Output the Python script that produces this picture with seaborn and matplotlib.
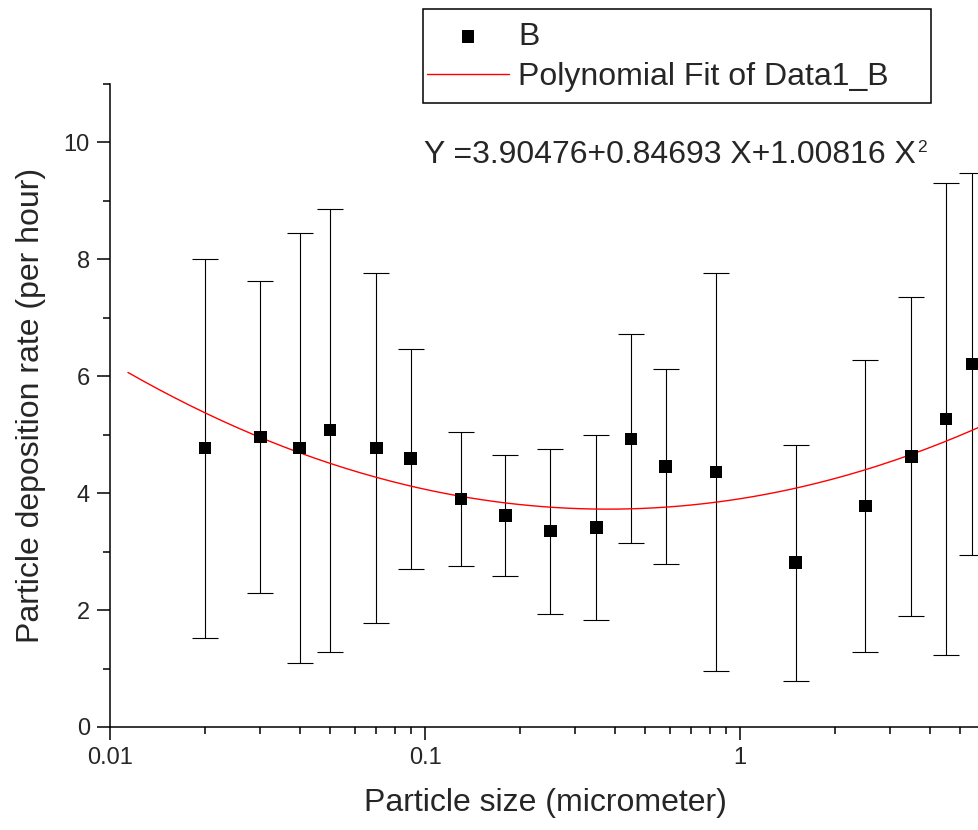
import numpy as np
import seaborn as sns
import matplotlib.pyplot as plt
from matplotlib.patches import Rectangle
from matplotlib.ticker import FixedLocator, FuncFormatter, MultipleLocator, NullFormatter, LogLocator

# Dados
sizes = [0.02, 0.03, 0.04, 0.05, 0.07, 0.09, 0.13, 0.18, 0.25, 0.35, 0.45, 0.58,
         0.84, 1.5, 2.5, 3.5, 4.5, 5.45]
rates = [4.77, 4.96, 4.77, 5.08, 4.77, 4.59, 3.90, 3.62, 3.35, 3.41, 4.93, 4.46,
         4.36, 2.81, 3.78, 4.63, 5.27, 6.21]
errors = [3.24, 2.67, 3.68, 3.79, 2.99, 1.88, 1.14, 1.04, 1.41, 1.58, 1.79, 1.67,
          3.40, 2.02, 2.50, 2.73, 4.04, 3.26]

# coeficientes do ajuste mostrados no gráfico (X = log10 do tamanho)
fit_coef = [3.90476, 0.84693, 1.00816]
fit_range = [0.0114, 10]

sns.set_style('ticks')
plt.rcParams['font.family'] = ['Liberation Sans', 'DejaVu Sans']

fig = plt.figure(figsize=(9.79, 8.30), dpi=100)
ax = fig.add_axes([0.1124, 0.1241, 0.9653, 0.7747])
ax.set_xscale('log')

fit_x = np.logspace(np.log10(fit_range[0]), np.log10(fit_range[1]), 300)
X = np.log10(fit_x)
fit_y = fit_coef[0] + fit_coef[1] * X + fit_coef[2] * X ** 2

ax.errorbar(sizes, rates, yerr=errors, fmt='none', ecolor='black',
            elinewidth=0.8, capsize=9.5, capthick=0.8, zorder=2)
sns.lineplot(x=fit_x, y=fit_y, color='red', linewidth=1, ax=ax,
             label='Polynomial Fit of Data1_B', zorder=3)
sns.scatterplot(x=sizes, y=rates, marker='s', s=81, color='black',
                edgecolor='none', ax=ax, label='B', zorder=4)

ax.set_xlim(0.01, 10)
ax.set_ylim(0, 11)
ax.yaxis.set_major_locator(MultipleLocator(2))
ax.yaxis.set_minor_locator(MultipleLocator(1))
ax.xaxis.set_major_locator(FixedLocator([0.01, 0.1, 1]))
ax.xaxis.set_major_formatter(FuncFormatter(lambda v, p: '%g' % v))
ax.xaxis.set_minor_locator(LogLocator(base=10, subs=np.arange(2, 10)))
ax.xaxis.set_minor_formatter(NullFormatter())

ax.tick_params(which='major', direction='out', length=9.5, width=1.1,
               labelsize=17, pad=5, color='black')
ax.tick_params(which='minor', direction='out', length=4.7, width=1.1, color='black')
sns.despine(ax=ax)
for s in ['left', 'bottom']:
    ax.spines[s].set_linewidth(1.1)
    ax.spines[s].set_color('black')

ax.set_xlabel('Particle size (micrometer)', fontsize=23)
ax.set_ylabel('Particle deposition rate (per hour)', fontsize=23, labelpad=13)
ax.xaxis.set_label_coords(0.461, -0.095)

# legenda sem moldura + moldura desenhada à parte
handles, labels = ax.get_legend_handles_labels()
order = [labels.index('B'), labels.index('Polynomial Fit of Data1_B')]
leg = ax.legend([handles[i] for i in order], [labels[i] for i in order],
                loc='upper left', bbox_to_anchor=(427 / 979, 1 - 22 / 830),
                bbox_transform=fig.transFigure, borderaxespad=0, borderpad=0,
                fontsize=23, frameon=False, handlelength=2.57,
                handletextpad=0.28, labelspacing=0.32)
fig.patches.append(Rectangle((422.7 / 979, 1 - 103 / 830), (931 - 422.7) / 979,
                             (103 - 9.3) / 830, transform=fig.transFigure,
                             fill=False, edgecolor='black', linewidth=1.1))

fig.text(424 / 979, 1 - 163 / 830, 'Y =3.90476+0.84693 X+1.00816 X',
         fontsize=23, va='baseline')
fig.text(917 / 979, 1 - 152 / 830, '2', fontsize=12.5, va='baseline')

fig.savefig('out.png', dpi=100)
